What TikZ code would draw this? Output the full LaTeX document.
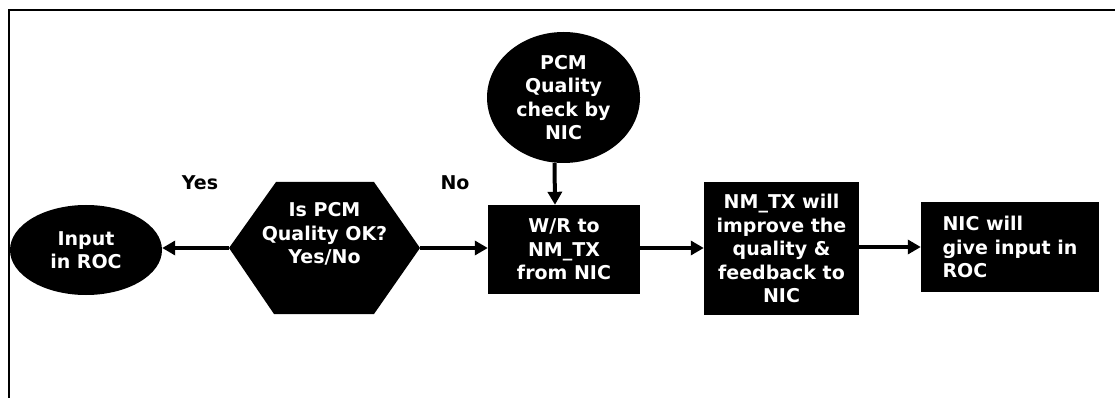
\documentclass[tikz,border=0pt]{standalone}
\usepackage{fontspec}
\setmainfont{DejaVu Sans}
\usetikzlibrary{shapes.geometric,arrows.meta}

\tikzset{
  txt/.style={font=\fontsize{19}{23.5}\selectfont\bfseries},
  base/.style={txt, fill=black, text=white, inner sep=0pt, align=center},
  oval/.style={base, ellipse},
  box/.style={base, rectangle},
  hexbox/.style={txt, rectangle, inner sep=0pt, align=center, text=white,
    path picture={
      \fill (path picture bounding box.west)
        -- ([xshift=47pt]path picture bounding box.north west)
        -- ([xshift=-46pt]path picture bounding box.north east)
        -- (path picture bounding box.east)
        -- ([xshift=-46pt]path picture bounding box.south east)
        -- ([xshift=45pt]path picture bounding box.south west)
        -- cycle;}},
  tag/.style={txt, inner sep=0pt},
  flow/.style={line width=4pt, -{Triangle[length=13pt,width=14pt]}},
  frame/.style={line width=2pt}
}

\begin{document}
\begin{tikzpicture}[x=1pt,y=-1pt]
  \useasboundingbox (0,0) rectangle (1116,398);

  % outer frame (top and left edges)
  \draw[frame] (9,398) -- (9,10) -- (1115,10);

  % nodes
  \node[oval, minimum width=152pt, minimum height=90pt] (roc) at (86,250)
    {Input\\in ROC};
  \node[hexbox, minimum width=191pt, minimum height=132pt] (hex) at (324.5,248)
    {Is PCM\\Quality OK?\\Yes/No\\[6pt]};
  \node[oval, minimum width=153pt, minimum height=131pt] (pcm) at (563.5,97.5)
    {PCM\\Quality\\check by\\NIC};
  \node[box, minimum width=152pt, minimum height=89pt] (wr) at (564,249.5)
    {W/R to\\NM\_TX\\from NIC};
  \node[box, minimum width=155pt, minimum height=133pt] (nmtx) at (781.5,248.5)
    {NM\_TX will\\improve the\\quality \&\\feedback to\\NIC};
  \node[box, align=left, minimum width=178pt, minimum height=90pt] (nic) at (1010,247)
    {NIC will\\give input in\\ROC};

  % branch labels
  \node[tag] (yes) at (200,183) {Yes};
  \node[tag] (no) at (455,183) {No};

  % connectors
  \draw[flow] (hex.west) -- (roc.east |- hex.west);
  \draw[flow] (hex.east) -- (wr.west |- hex.east);
  \draw[flow] ([xshift=-9pt]pcm.south) -- ([xshift=-9pt]wr.north);
  \draw[flow] (wr.east |- hex.east) -- (nmtx.west |- hex.east);
  \draw[flow] (nmtx.east |- nic.west) -- (nic.west);
\end{tikzpicture}
\end{document}
